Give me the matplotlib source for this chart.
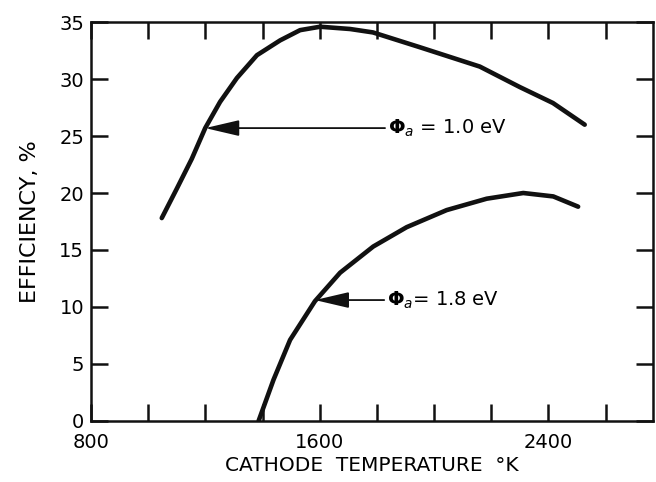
import numpy as np
from matplotlib import pyplot as plt
from matplotlib.ticker import FixedLocator, FuncFormatter

plt.rcParams['font.family'] = 'DejaVu Sans'
plt.rcParams['mathtext.fontset'] = 'dejavusans'

# curve values (temperature K, efficiency %)
temp_10 = [1047, 1100, 1152, 1199, 1251, 1310, 1380, 1461, 1531, 1601, 1706,
           1786, 1950, 2160, 2300, 2416, 2527]
eff_10 = [17.8, 20.4, 23.0, 25.7, 28.0, 30.1, 32.1, 33.4, 34.3, 34.6, 34.4,
          34.1, 32.8, 31.1, 29.3, 27.9, 26.0]

temp_18 = [1386, 1438, 1496, 1583, 1671, 1787, 1904, 2044, 2184, 2312,
           2417, 2504]
eff_18 = [0.0, 3.6, 7.1, 10.5, 13.0, 15.3, 17.0, 18.5, 19.5, 20.0,
          19.7, 18.8]

x_ticks = list(range(800, 2801, 200))
x_labels = [800, 1600, 2400]
y_ticks = list(range(0, 36, 5))

fig = plt.figure(figsize=(6.56, 4.82), dpi=100)
ax = fig.add_axes([0.139, 0.127, 0.856, 0.827])

ax.plot(temp_10, eff_10, color='#111111', lw=3.3, solid_capstyle='round',
        solid_joinstyle='round')
ax.plot(temp_18, eff_18, color='#111111', lw=3.3, solid_capstyle='round',
        solid_joinstyle='round')

arrow = dict(arrowstyle='-|>,head_length=1.5,head_width=0.35', color='#111111',
             lw=1.3, shrinkA=0, shrinkB=0)
ax.annotate(r'$\mathbf{\Phi}_{a}$ = 1.0 eV', xy=(1199, 25.7), xytext=(1838, 25.7),
            fontsize=14, va='center', ha='left', arrowprops=arrow)
ax.annotate(r'$\mathbf{\Phi}_{a}$= 1.8 eV', xy=(1583, 10.6), xytext=(1835, 10.6),
            fontsize=14, va='center', ha='left', arrowprops=arrow)

ax.set_xlim(800, 2765)
ax.set_ylim(0, 35)
ax.xaxis.set_major_locator(FixedLocator(x_ticks))
ax.xaxis.set_major_formatter(FuncFormatter(lambda v, p: str(int(v)) if int(v) in x_labels else ''))
ax.set_yticks(y_ticks)

ax.tick_params(direction='in', length=12, width=1.8, labelsize=14, color='#111111',
               top=True, right=True, pad=5)
ax.tick_params(axis='x', pad=9)
for s in ax.spines.values():
    s.set_linewidth(1.8)
    s.set_color('#111111')

ax.set_xlabel('CATHODE  TEMPERATURE  °K', fontsize=14.5, labelpad=3)
ax.set_ylabel('EFFICIENCY, %', fontsize=16, labelpad=14)

fig.savefig('out.png', dpi=100)
